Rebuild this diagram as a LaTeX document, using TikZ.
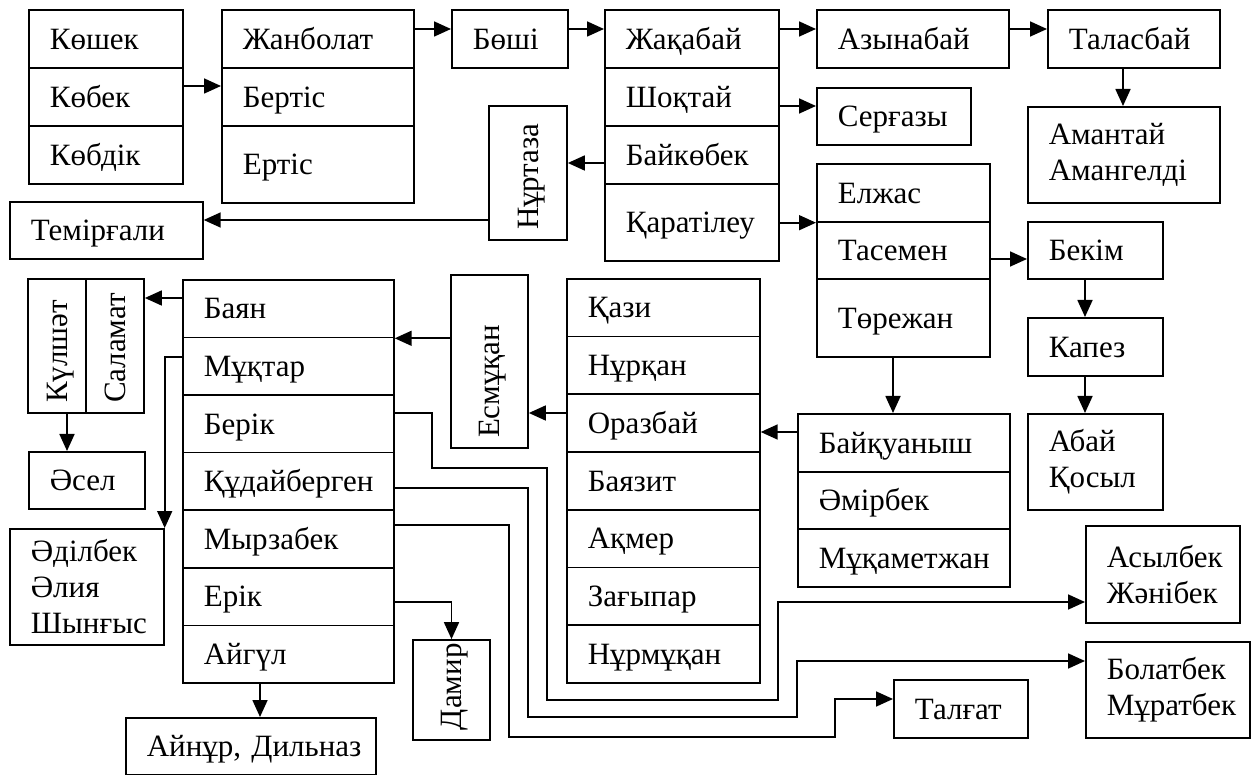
\documentclass[tikz,border=0pt]{standalone}
\usepackage{fontspec}
\setmainfont{Liberation Serif}
\usetikzlibrary{arrows.meta,calc}
\tikzset{
  lw/.style={line width=1.7pt},
  box/.style={draw, lw, rectangle, anchor=north west, inner xsep=21pt, inner ysep=0pt,
              align=left, text height=20.5pt, text depth=0pt},
  mbox/.style={draw, lw, rectangle, anchor=north west, inner xsep=21pt, inner ysep=0pt,
              align=left},
  vbox/.style={draw, lw, rectangle, rotate=90, inner xsep=10pt, inner ysep=0pt,
              align=left, text height=20.5pt, text depth=0pt},
  arr/.style={lw, -{Triangle[length=17pt,width=15pt]}}
}
\newcommand\cellnode[6]{\node[box, minimum width=#4pt, minimum height=#5pt, text width=#4pt-42pt] (#1) at (#2,#3) {\mbox{#6}};}
\newcommand\multinode[6]{\node[mbox, minimum width=#4pt, minimum height=#5pt, text width=#4pt-42pt] (#1) at (#2,#3) {#6};}
\newcommand\vertnode[6]{\node[vbox, minimum width=#5pt, minimum height=#4pt, text width=#5pt-20pt] (#1) at (#2,#3) {\mbox{#6}};}
\begin{document}
\begin{tikzpicture}[x=1pt,y=-1pt,font=\fontsize{31}{36}\selectfont]
\useasboundingbox (0,0) rectangle (1251,775);
% top-left
\cellnode{kosh}{28}{9}{154}{58}{Көшек}
\cellnode{kobek}{28}{67}{154}{58}{Көбек}
\cellnode{kobdik}{28}{125}{154}{58}{Көбдік}
\cellnode{zhan}{221}{9}{192}{58}{Жанболат}
\cellnode{bertis}{221}{67}{192}{58}{Бертіс}
\cellnode{ertis}{221}{125}{192}{77}{Ертіс}
\cellnode{boshi}{451}{9}{116}{58}{Бөші}
\cellnode{zhaq}{604}{9}{174}{58}{Жақабай}
\cellnode{shoq}{604}{67}{174}{58}{Шоқтай}
\cellnode{baik}{604}{125}{174}{58}{Байкөбек}
\cellnode{qarat}{604}{183}{174}{77}{Қаратілеу}
\cellnode{azyn}{816}{9}{192}{58}{Азынабай}
\cellnode{talas}{1047}{9}{172}{58}{Таласбай}
\multinode{amant}{1027}{106}{192}{96}{Амантай\\Амангелді}
\cellnode{serg}{816}{87}{154}{57}{Серғазы}
\vertnode{nurt}{528}{173}{78}{134}{Нұртаза}
\cellnode{temir}{9}{201}{193}{57}{Темірғали}
\cellnode{elzh}{816}{163}{173}{58}{Елжас}
\cellnode{tasem}{816}{221}{173}{57}{Тасемен}
\cellnode{torezh}{816}{278}{173}{78}{Төрежан}
\cellnode{bekim}{1027}{221}{135}{57}{Бекім}
\cellnode{kapez}{1027}{317}{135}{58}{Капез}
\multinode{abai}{1027}{413}{135}{96}{Абай\\Қосыл}
\cellnode{baiq}{797}{413}{212}{58}{Байқуаныш}
\cellnode{omir}{797}{471}{212}{57}{Әмірбек}
\cellnode{muqam}{797}{528}{212}{58}{Мұқаметжан}
% Qazi column
\cellnode{qazi}{566}{278}{193}{57.7}{Қази}
\cellnode{nurq}{566}{335.7}{193}{57.7}{Нұрқан}
\cellnode{oraz}{566}{393.4}{193}{57.7}{Оразбай}
\cellnode{bayaz}{566}{451.1}{193}{57.7}{Баязит}
\cellnode{aqmer}{566}{508.8}{193}{57.7}{Ақмер}
\cellnode{zagyp}{566}{566.5}{193}{57.7}{Зағыпар}
\cellnode{nurm}{566}{624.2}{193}{57.7}{Нұрмұқан}
\vertnode{esm}{489.5}{361.5}{77}{173}{Есмұқан}
% Bayan column
\cellnode{bayan}{182}{279}{211}{57.6}{Баян}
\cellnode{muqt}{182}{336.6}{211}{57.6}{Мұқтар}
\cellnode{berik}{182}{394.2}{211}{57.6}{Берік}
\cellnode{qudai}{182}{451.8}{211}{57.6}{Құдайберген}
\cellnode{myrza}{182}{509.4}{211}{57.6}{Мырзабек}
\cellnode{erik}{182}{567}{211}{57.6}{Ерік}
\cellnode{aigul}{182}{624.6}{211}{57.6}{Айгүл}
\vertnode{kul}{57}{346}{58}{134}{Күлшәт}
\vertnode{salam}{115}{346}{58}{134}{Саламат}
\cellnode{asel}{28}{451}{116}{57}{Әсел}
\multinode{adil}{9}{528}{154}{116}{Әділбек\\Әлия\\Шынғыс}
\cellnode{ainur}{125}{717}{250}{57}{Айнұр, Дильназ}
\vertnode{damir}{451.5}{690}{77}{100}{Дамир}
\multinode{asyl}{1085}{525}{154}{97}{Асылбек\\Жәнібек}
\multinode{bolat}{1085}{641}{164}{96}{Болатбек\\Мұратбек}
\cellnode{talg}{893}{679}{134}{58}{Талғат}
% connectors
\draw[arr] (kobek.east |- 0,86) -- (bertis.west |- 0,86);
\draw[arr] (zhan.east |- 0,29) -- (boshi.west |- 0,29);
\draw[arr] (boshi.east |- 0,29) -- (zhaq.west |- 0,29);
\draw[arr] (zhaq.east |- 0,29) -- (azyn.west |- 0,29);
\draw[arr] (azyn.east |- 0,29) -- (talas.west |- 0,29);
\draw[arr] (talas.south -| 1123,0) -- (amant.north -| 1123,0);
\draw[arr] (shoq.east |- 0,106) -- (serg.west |- 0,106);
\draw[arr] (baik.west |- 0,163) -- (nurt.south |- 0,163);
\draw[arr] (nurt.north |- 0,220) -- (temir.east |- 0,220);
\draw[arr] (qarat.east |- elzh.south west) -- (elzh.south west);
\draw[arr] (tasem.east |- 0,259) -- (bekim.west |- 0,259);
\draw[arr] (bekim.south -| 1085,0) -- (kapez.north -| 1085,0);
\draw[arr] (kapez.south -| 1085,0) -- (abai.north -| 1085,0);
\draw[arr] (torezh.south -| 893,0) -- (baiq.north -| 893,0);
\draw[arr] (baiq.west |- 0,432) -- (oraz.east |- 0,432);
\draw[arr] (oraz.west |- 0,413) -- (esm.south |- 0,413);
\draw[arr] (esm.north |- bayan.south east) -- (bayan.south east);
\draw[arr] (bayan.west |- 0,298) -- (salam.south |- 0,298);
\draw[arr] (kul.west -| 67,0) -- (asel.north -| 67,0);
\draw[arr] (muqt.west |- 0,357) -| (adil.north east);
\draw[arr] (aigul.south -| 260,0) -- (ainur.north -| 260,0);
\draw[arr] (erik.east |- 0,602) -| (damir.east);
\draw[arr] (berik.east |- 0,413) -| (432,468) -| (547,700) -| (778,602) -- (asyl.west |- 0,602);
\draw[arr] (qudai.east |- 0,488) -| (528,717) -| (797,661) -- (bolat.west |- 0,661);
\draw[arr] (myrza.east |- 0,525) -| (509,737) -| (835,699) -- (talg.west |- 0,699);
\end{tikzpicture}
\end{document}
